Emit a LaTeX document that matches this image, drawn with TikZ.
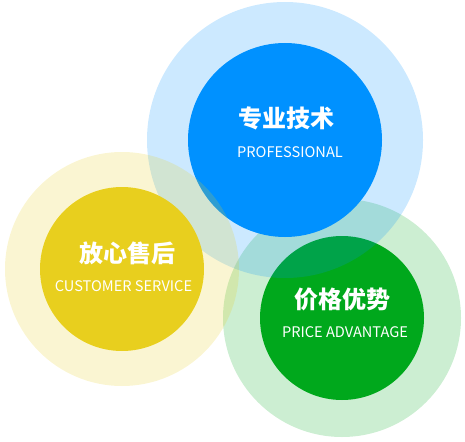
\documentclass[tikz,border=0pt]{standalone}
\usepackage{fontspec}
\setmainfont{Noto Sans CJK SC}
\usepackage{xcolor}
\usepackage{tikz}
\usetikzlibrary{positioning}

\definecolor{proBlue}{RGB}{0,145,255}
\definecolor{svcYellow}{RGB}{232,207,30}
\definecolor{priceGreen}{RGB}{0,168,28}

\begin{document}
\begin{tikzpicture}[x=1pt, y=-1pt,
    every node/.style={circle, inner sep=0pt},
    halo/.style={fill=#1, fill opacity=0.2},
    core/.style={fill=#1},
    title/.style={rectangle, text=white, font=\bfseries\fontsize{24}{24}\selectfont},
    subtitle/.style={rectangle, text=white, font=\fontsize{14.6}{14.6}\selectfont},
  ]
  \useasboundingbox (0,0) rectangle (465,441);

  % Circles (green below, yellow on top)
  \node[halo=priceGreen, minimum size=238pt] (gh) at (342,318) {};
  \node[core=priceGreen, minimum size=164pt] (gc) at (342,318) {};
  \node[halo=proBlue,    minimum size=276pt] (bh) at (285,140) {};
  \node[core=proBlue,    minimum size=194pt] (bc) at (285,140) {};
  \node[halo=svcYellow,  minimum size=234pt] (yh) at (122,269) {};
  \node[core=svcYellow,  minimum size=164pt] (yc) at (122,269) {};

  % Labels
  \node[title]    (bt) at (286,118)   {专业技术};
  \node[subtitle] (bs) at (290,152.5) {PROFESSIONAL};
  \node[title]    (yt) at (127,253)   {放心售后};
  \node[subtitle] (ys) at (123.5,286.5) {CUSTOMER SERVICE};
  \node[title]    (gt) at (342,299)   {价格优势};
  \node[subtitle] (gs) at (345,332.5) {PRICE ADVANTAGE};

\end{tikzpicture}
\end{document}
